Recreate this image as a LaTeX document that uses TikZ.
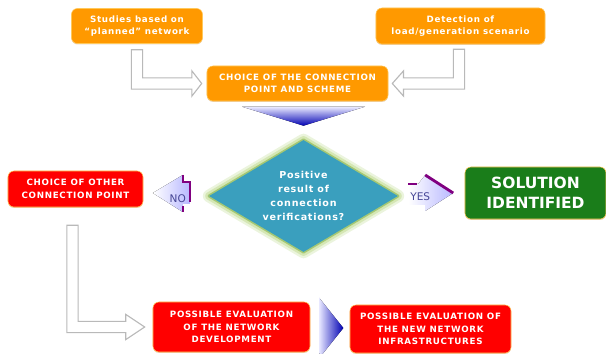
\documentclass[tikz,border=0pt]{standalone}
\usepackage{fontspec}
\setmainfont{DejaVu Sans}
\newfontfamily\spacedfont[LetterSpace=8]{DejaVu Sans}
\usetikzlibrary{shapes.geometric}
\usetikzlibrary{positioning}
\usetikzlibrary{calc}
\usetikzlibrary{shadows}
\definecolor{boxorange}{RGB}{255,153,0}
\definecolor{boxred}{RGB}{255,0,0}
\definecolor{boxgreen}{RGB}{26,125,26}
\definecolor{diateal}{RGB}{58,159,190}
\definecolor{glowgreen}{RGB}{190,218,140}
\definecolor{glowdeep}{RGB}{165,200,115}
\definecolor{arrowpurple}{RGB}{128,0,128}
\definecolor{labelblue}{RGB}{70,70,150}
\definecolor{rimyellow}{RGB}{255,200,90}

% L-shaped hollow arrow: from, to, direction (1 right, -1 left), head length
\newcommand{\hollowarrow}[4]{%
  \draw[hollow] let \p1=(#1), \p2=(#2) in
    ({\x1-(#3)*4pt},\y1) -- ({\x1-(#3)*4pt},{\y2-4pt}) -- ({\x2-(#3)*#4},{\y2-4pt})
    -- ({\x2-(#3)*#4},{\y2-9pt}) -- (\x2,\y2) -- ({\x2-(#3)*#4},{\y2+9pt})
    -- ({\x2-(#3)*#4},{\y2+4pt}) -- ({\x1+(#3)*4pt},{\y2+4pt}) -- ({\x1+(#3)*4pt},\y1) -- cycle;
}

\begin{document}
\begin{tikzpicture}[x=0.025cm, y=-0.025cm,
    box/.style={rounded corners=0.15cm, draw=rimyellow, line width=0.4pt, align=center,
      inner sep=0pt, text=white, font=\spacedfont\bfseries\fontsize{6.2}{9}\selectfont,
      drop shadow={shadow xshift=0pt, shadow yshift=-0.7pt, opacity=0.35, fill=brown}},
    hollow/.style={draw=gray!55, line width=0.8pt, fill=white},
    answer/.style={text=labelblue, font=\fontsize{7.5}{9}\selectfont}]
    \useasboundingbox (0,0) rectangle (606,354);

    % input studies
    \node[box, fill=boxorange, minimum width=3.275cm, minimum height=0.875cm] (studies) at (137,26) {Studies based on\\“planned” network};
    \node[box, fill=boxorange, minimum width=4.225cm, minimum height=0.9cm] (detection) at (460.5,26) {Detection of\\load/generation scenario};
    \node[box, fill=boxorange, minimum width=4.525cm, minimum height=0.875cm] (choice) at (297.5,83.5) {CHOICE OF THE CONNECTION\\POINT AND SCHEME};

    % verification
    \node[diamond, fill=diateal, minimum width=4.72cm, minimum height=2.8cm, aspect=1.7, inner sep=0pt,
      align=center, text=white, font=\spacedfont\bfseries\fontsize{6.8}{9.8}\selectfont,
      preaction={draw=glowgreen!30, line width=0.32cm, line join=round},
      preaction={draw=glowgreen!65, line width=0.2cm, line join=round},
      preaction={draw=glowdeep, line width=0.08cm, line join=round}] (dia) at (303.5,196) {Positive\\result of\\connection\\verifications?};

    \node[box, fill=boxred, minimum width=3.375cm, minimum height=0.9cm] (other) at (75.5,189) {CHOICE OF OTHER\\CONNECTION POINT};
    \node[box, fill=boxgreen, minimum width=3.525cm, minimum height=1.3cm, font=\bfseries\fontsize{11}{14}\selectfont] (solution) at (535.5,193) {SOLUTION\\IDENTIFIED};

    % network evaluation
    \node[box, fill=boxred, minimum width=3.925cm, minimum height=1.25cm] (evaldev) at (231.5,327) {POSSIBLE EVALUATION\\OF THE NETWORK\\DEVELOPMENT};
    \node[box, fill=boxred, minimum width=4.025cm, minimum height=1.2cm] (evalnew) at (430.5,329) {POSSIBLE EVALUATION OF\\THE NEW NETWORK\\INFRASTRUCTURES};

    % hollow arrows
    \hollowarrow{$(studies.south)+(0,6)$}{$(choice.west)+(-5,0)$}{1}{7pt}
    \hollowarrow{$(detection.south)+(-1.5,5)$}{$(choice.east)+(4,0)$}{-1}{8pt}
    \hollowarrow{$(other.south)+(-3,18)$}{$(evaldev.west)+(-8,0)$}{1}{13.5pt}

    % shaded triangles
    \fill[top color=blue!8, bottom color=blue!70!black] ($(dia.north)+(-61.5,-33)$) -- ($(dia.north)+(61.5,-33)$) -- ($(dia.north)+(0,-14)$) -- cycle;
    \fill[left color=blue!10, right color=blue!70!black] ($(evaldev.east)+(9,-29)$) -- ($(evaldev.east)+(33,1)$) -- ($(evaldev.east)+(9,31)$) -- cycle;

    % NO branch
    \begin{scope}[shift={(dia.west)}]
        \fill[left color=white, right color=blue!28] (-56,-3) -- (-26,-21) -- (-26,-14) -- (-19,-14) -- (-19,8) -- (-26,8) -- (-26,16) -- cycle;
        \draw[arrowpurple, line width=1.3pt] (-26,-21) -- (-26,-14) -- (-19,-14) -- (-19,6);
        \draw[arrowpurple, line width=1.3pt] (-26,10) -- (-26,16);
        \node[answer] (no) at (-31,3) {NO};
    \end{scope}

    % YES branch
    \begin{scope}[shift={(dia.east)}]
        \fill[left color=white, right color=blue!28] (10,-12) -- (20,-12) -- (27,-21) -- (55,-3) -- (27,15) -- (27,9) -- (10,9) -- cycle;
        \draw[arrowpurple, line width=1.5pt] (10,-12) -- (19,-12);
        \draw[arrowpurple, line width=2pt] (27,-21) -- (55,-3);
        \node[answer] (yes) at (22,1) {YES};
    \end{scope}
\end{tikzpicture}
\end{document}
